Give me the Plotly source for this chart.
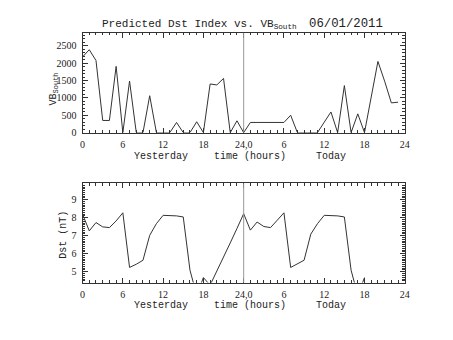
import plotly.graph_objects as go

W, H = 453, 340

hours = list(range(0, 48))
vb_south = [2180, 2386, 2076, 350, 350, 1907, 0, 1485, 0, 0, 1062, 0,
            0, 0, 293, 0, 0, 312, 0, 1400, 1372, 1560, 0, 340,
            0, 293, 293, 293, 293, 293, 293, 500, 0, 0, 0, 0,
            300, 594, 0, 1355, 0, 540, 0, 1020, 2049, 1480, 856, 876]

dst_hours = list(range(0, 43))
dst = [8.19, 7.27, 7.73, 7.49, 7.45, 7.82, 8.27, 5.24, 5.42, 5.64, 7.02, 7.67,
       8.13, 8.13, 8.10, 8.04, 5.09, 3.70, 4.68, 4.26, 5.02, 5.80, 6.60, 7.40,
       8.22, 7.31, 7.76, 7.51, 7.45, 7.86, 8.27, 5.24, 5.42, 5.64, 7.09, 7.67,
       8.13, 8.13, 8.10, 8.04, 5.09, 3.70, 4.68]

xtick_vals = [0, 6, 12, 18, 24, 30, 36, 42, 48]
xtick_text = ["0", "6", "12", "18", "24,0", "6", "12", "18", "24"]
vb_ticks = [0, 500, 1000, 1500, 2000, 2500]
dst_ticks = [5, 6, 7, 8, 9]

title_main = "Predicted Dst Index vs. VB<sub>South</sub>"
title_date = "06/01/2011"

def px(x):
    return x / W

def py(y):
    return 1 - y / H

line_col = "#333333"
tick_font = dict(family="Liberation Serif", size=10, color="#222222")
word_font = dict(family="Liberation Mono", size=10, color="#222222")

fig = go.Figure()
fig.add_trace(go.Scatter(x=hours, y=vb_south, mode="lines",
                         line=dict(color=line_col, width=1), xaxis="x", yaxis="y",
                         showlegend=False, hoverinfo="skip"))
fig.add_trace(go.Scatter(x=dst_hours, y=dst, mode="lines",
                         line=dict(color=line_col, width=1), xaxis="x2", yaxis="y2",
                         showlegend=False, hoverinfo="skip"))

xdom = [px(81), px(409)]
top_dom = [py(135), py(33.5)]
bot_dom = [py(287.7), py(186.7)]

common_x = dict(range=[0, 48], tickmode="array", tickvals=xtick_vals, ticktext=xtick_text,
                ticks="inside", ticklen=5, tickcolor="#333", showline=True, linecolor="#333",
                linewidth=1, mirror="allticks", showgrid=False, zeroline=False,
                tickfont=tick_font, domain=xdom, ticklabelstandoff=2,
                minor=dict(ticks="inside", dtick=1, ticklen=2.5, tickcolor="#333", showgrid=False))

common_y = dict(ticks="inside", ticklen=5, tickcolor="#333", showline=True, linecolor="#333",
                linewidth=1, mirror="allticks", showgrid=False, zeroline=False, tickfont=tick_font,
                ticklabelstandoff=3, tickmode="array")

fig.update_layout(
    width=W, height=H, margin=dict(l=0, r=0, t=0, b=0),
    paper_bgcolor="white", plot_bgcolor="white",
    xaxis=dict(anchor="y", **common_x),
    yaxis=dict(domain=top_dom, anchor="x", range=[0, 2870], tickvals=vb_ticks,
               minor=dict(ticks="inside", dtick=100, tick0=0, ticklen=2.5, tickcolor="#333", showgrid=False),
               **common_y),
    xaxis2=dict(anchor="y2", **common_x),
    yaxis2=dict(domain=bot_dom, anchor="x2", range=[4.4, 9.9], tickvals=dst_ticks,
                minor=dict(ticks="inside", dtick=0.1, tick0=0, ticklen=2.5, tickcolor="#333", showgrid=False),
                **common_y),
)

# vertical divider at 24 h
for xr, yr in (("x", "y domain"), ("x2", "y2 domain")):
    fig.add_shape(type="line", xref=xr, yref=yr, x0=24, x1=24, y0=0, y1=1,
                  line=dict(color="#999999", width=1))

ann = []
ann.append(dict(text=title_main, x=px(99), y=py(24.5), xanchor="left", yanchor="middle",
                font=dict(family="Liberation Mono", size=11, color="#222")))
ann.append(dict(text=title_date, x=px(309), y=py(24.5), xanchor="left", yanchor="middle",
                font=dict(family="Liberation Mono", size=12.3, color="#222")))
for ylab in (159.5, 310.5):
    ann.append(dict(text="Yesterday", x=px(161), y=py(ylab), xanchor="center", yanchor="middle", font=word_font))
    ann.append(dict(text="time (hours)", x=px(251.7), y=py(ylab), xanchor="center", yanchor="middle", font=word_font))
    ann.append(dict(text="Today", x=px(334), y=py(ylab), xanchor="center", yanchor="middle", font=word_font))
ann.append(dict(text="VB<sub>South</sub>", x=px(52), y=py(91), xanchor="center", yanchor="middle",
                textangle=-90, font=word_font))
ann.append(dict(text="Dst (nT)", x=px(62), y=py(239), xanchor="center", yanchor="middle",
                textangle=-90, font=word_font))
for a in ann:
    a.update(xref="paper", yref="paper", showarrow=False)
fig.update_layout(annotations=ann)

fig.write_html("out.html")
